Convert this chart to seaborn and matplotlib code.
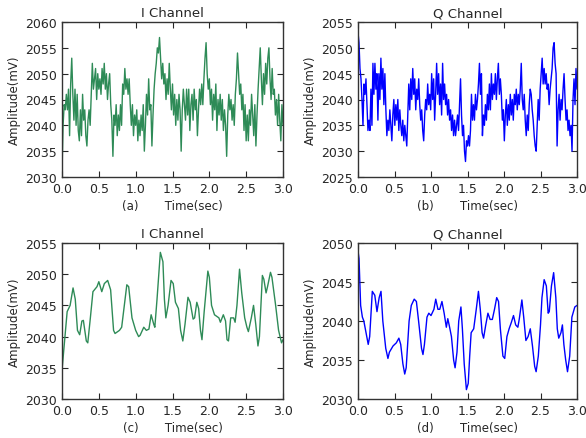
import matplotlib
matplotlib.use("Agg")
import matplotlib.pyplot as plt
import seaborn as sns
import numpy as np
import pandas as pd

# ---- data ----
# (a) raw I channel, evenly sampled over 0..3 s
i_raw = [2031, 2040, 2044, 2043, 2046, 2043, 2047, 2038, 2048, 2053, 2046, 2041, 2047, 2040, 2046, 2039,
         2037, 2043, 2038, 2046, 2041, 2043, 2038, 2036, 2041, 2043, 2040, 2046, 2052, 2047, 2049, 2051,
         2045, 2050, 2047, 2049, 2046, 2051, 2048, 2052, 2047, 2050, 2045, 2048, 2050, 2044, 2041, 2034,
         2042, 2040, 2044, 2038, 2042, 2039, 2044, 2040, 2048, 2046, 2051, 2047, 2049, 2046, 2049, 2044,
         2040, 2044, 2038, 2042, 2040, 2043, 2037, 2041, 2038, 2042, 2039, 2044, 2035, 2040, 2046, 2042,
         2049, 2043, 2044, 2036, 2042, 2047, 2050, 2052, 2055, 2054, 2057, 2053, 2049, 2052, 2048, 2050,
         2045, 2049, 2046, 2052, 2047, 2043, 2048, 2042, 2046, 2040, 2045, 2041, 2046, 2043, 2035, 2043,
         2047, 2044, 2041, 2047, 2042, 2047, 2039, 2044, 2046, 2041, 2047, 2043, 2045, 2038, 2043, 2047,
         2044, 2048, 2044, 2049, 2053, 2056, 2050, 2047, 2049, 2044, 2047, 2041, 2046, 2043, 2048, 2039,
         2045, 2042, 2046, 2041, 2045, 2039, 2043, 2040, 2034, 2042, 2046, 2043, 2045, 2041, 2044, 2040,
         2046, 2049, 2054, 2050, 2046, 2048, 2043, 2046, 2039, 2044, 2037, 2042, 2037, 2043, 2040, 2046,
         2042, 2038, 2044, 2036, 2042, 2047, 2051, 2055, 2049, 2044, 2050, 2046, 2052, 2048, 2053, 2055,
         2049, 2045, 2051, 2046, 2047, 2042, 2045, 2040, 2046, 2041, 2037, 2044, 2040]

# (b) raw Q channel, evenly sampled over 0..3 s
q_raw = [2053, 2051, 2046, 2044, 2040, 2035, 2043, 2041, 2044, 2039, 2034, 2036, 2034, 2042, 2035, 2047,
         2041, 2047, 2042, 2045, 2036, 2045, 2040, 2048, 2042, 2046, 2039, 2045, 2038, 2033, 2036, 2034,
         2038, 2035, 2032, 2037, 2040, 2035, 2039, 2036, 2040, 2034, 2038, 2035, 2033, 2036, 2032, 2035,
         2033, 2031, 2037, 2043, 2038, 2044, 2040, 2046, 2041, 2044, 2038, 2042, 2040, 2044, 2039, 2036,
         2038, 2034, 2032, 2037, 2040, 2038, 2043, 2039, 2041, 2038, 2045, 2040, 2044, 2036, 2041, 2047,
         2041, 2045, 2039, 2043, 2037, 2047, 2040, 2043, 2039, 2041, 2037, 2040, 2036, 2038, 2034, 2037,
         2033, 2036, 2033, 2035, 2037, 2034, 2039, 2044, 2037, 2033, 2035, 2030, 2028, 2032, 2031, 2033,
         2031, 2034, 2041, 2036, 2039, 2036, 2041, 2038, 2040, 2043, 2047, 2041, 2045, 2033, 2037, 2035,
         2039, 2036, 2041, 2038, 2043, 2038, 2045, 2040, 2043, 2041, 2045, 2040, 2044, 2047, 2041, 2044,
         2041, 2036, 2038, 2032, 2037, 2040, 2035, 2039, 2036, 2041, 2037, 2040, 2036, 2041, 2039, 2042,
         2038, 2041, 2039, 2042, 2047, 2040, 2038, 2041, 2036, 2033, 2037, 2034, 2039, 2042, 2041, 2038,
         2036, 2033, 2031, 2030, 2035, 2040, 2036, 2042, 2045, 2048, 2043, 2046, 2043, 2045, 2042, 2043,
         2039, 2042, 2044, 2046, 2050, 2051, 2047, 2045, 2031, 2038, 2041, 2036, 2040, 2038, 2042, 2045,
         2040, 2036, 2038, 2034, 2036, 2033, 2035, 2030, 2040, 2044, 2039, 2046, 2042]

# (c) filtered I channel
i_filt_time = [0.0, 0.07, 0.11, 0.15, 0.18, 0.21, 0.24, 0.27, 0.29, 0.33, 0.35, 0.385, 0.42, 0.475, 0.5,
               0.54, 0.575, 0.62, 0.66, 0.70, 0.72, 0.78, 0.81, 0.88, 0.905, 0.95, 1.0, 1.04, 1.06, 1.11,
               1.145, 1.18, 1.21, 1.245, 1.26, 1.29, 1.335, 1.37, 1.39, 1.41, 1.44, 1.48, 1.51, 1.54, 1.58,
               1.61, 1.64, 1.67, 1.71, 1.74, 1.78, 1.80, 1.83, 1.855, 1.88, 1.90, 1.93, 1.98, 2.0, 2.03,
               2.07, 2.13, 2.15, 2.19, 2.22, 2.24, 2.26, 2.29, 2.33, 2.35, 2.375, 2.41, 2.44, 2.48, 2.51,
               2.53, 2.57, 2.60, 2.63, 2.66, 2.68, 2.72, 2.74, 2.77, 2.79, 2.83, 2.85, 2.90, 2.94, 2.98, 3.0]
i_filt = [2034.6, 2044, 2045, 2047.8, 2046, 2041, 2040.3, 2042.5, 2042.6, 2039.3, 2039, 2043, 2047.2, 2048,
          2048.8, 2047.2, 2048.5, 2049, 2047.5, 2041, 2040.5, 2041, 2041.5, 2048.3, 2048, 2043, 2041, 2040,
          2040.2, 2041.5, 2041, 2041.2, 2043.5, 2042, 2041.5, 2046, 2053.5, 2052, 2046, 2043, 2045, 2049,
          2048.5, 2045.5, 2044.5, 2041, 2039.3, 2042, 2046.3, 2045.5, 2042.8, 2043, 2045.5, 2044.5, 2041,
          2039.5, 2044, 2050.5, 2049.5, 2045, 2043.5, 2043, 2042.3, 2043.5, 2042.5, 2039.5, 2039.3, 2043,
          2043, 2042.3, 2045, 2050.8, 2047, 2043, 2041.5, 2040.8, 2043, 2045, 2042, 2038.5, 2040, 2049.8,
          2049.2, 2047, 2048, 2050.3, 2049.5, 2045, 2041, 2039, 2039.5]

# (d) filtered Q channel
q_filt_time = [0.0, 0.014, 0.036, 0.06, 0.08, 0.11, 0.14, 0.16, 0.196, 0.23, 0.26, 0.29, 0.315, 0.34, 0.38,
               0.41, 0.43, 0.48, 0.525, 0.56, 0.585, 0.615, 0.64, 0.66, 0.70, 0.73, 0.77, 0.80, 0.83, 0.87,
               0.89, 0.91, 0.945, 0.97, 1.0, 1.04, 1.065, 1.095, 1.12, 1.15, 1.18, 1.21, 1.23, 1.255, 1.28,
               1.31, 1.33, 1.356, 1.38, 1.41, 1.43, 1.455, 1.485, 1.51, 1.53, 1.55, 1.585, 1.62, 1.65,
               1.675, 1.70, 1.72, 1.75, 1.78, 1.81, 1.84, 1.87, 1.90, 1.925, 1.95, 1.985, 2.01, 2.04, 2.07,
               2.10, 2.13, 2.16, 2.19, 2.21, 2.245, 2.27, 2.30, 2.33, 2.36, 2.39, 2.42, 2.44, 2.47, 2.50,
               2.52, 2.55, 2.58, 2.605, 2.62, 2.65, 2.68, 2.71, 2.73, 2.75, 2.78, 2.80, 2.82, 2.845, 2.87,
               2.90, 2.93, 2.97, 3.0]
q_filt = [2049, 2048, 2042, 2040.5, 2040, 2038.5, 2037, 2038, 2043.8, 2043.3, 2041.2, 2043, 2043.8, 2040,
          2036.5, 2035.2, 2036, 2036.8, 2037.2, 2037.8, 2037, 2034.5, 2033.2, 2034, 2040, 2042, 2042.8,
          2042.5, 2040, 2036.5, 2035.7, 2037, 2040.5, 2041, 2040.7, 2041.5, 2042.8, 2041.5, 2041.5, 2042.5,
          2041, 2039.2, 2040.3, 2039.2, 2038, 2035, 2034, 2036, 2040, 2041.8, 2039, 2034.5, 2031.2, 2032,
          2035.5, 2038.5, 2039, 2041.5, 2043.8, 2041.5, 2038.5, 2037.8, 2039.5, 2041, 2040.2, 2040.2, 2041.5,
          2043, 2042.5, 2039, 2035.5, 2035.2, 2038, 2039, 2039.8, 2040.7, 2039.5, 2039.2, 2040.3, 2042.7,
          2040.5, 2037.5, 2038, 2039, 2036.8, 2034.2, 2033.5, 2035.5, 2039.5, 2043, 2045.3, 2044.5, 2041,
          2041.2, 2044.5, 2046.2, 2043, 2039, 2037.8, 2038.5, 2039.5, 2037, 2035, 2033.5, 2035.5, 2040.5,
          2041.8, 2042]

i_raw_time = np.linspace(0, 3, len(i_raw))
q_raw_time = np.linspace(0, 3, len(q_raw))

sns.set_style("ticks")
plt.rcParams['font.family'] = ['DejaVu Sans']
plt.rcParams.update({
    'xtick.direction': 'in', 'ytick.direction': 'in',
    'xtick.top': True, 'ytick.right': True,
    'xtick.major.size': 4, 'ytick.major.size': 4,
    'xtick.labelsize': 9, 'ytick.labelsize': 9,
    'axes.edgecolor': '#333333', 'axes.linewidth': 1.0,
})

W, H = 586, 439
fig = plt.figure(figsize=(W / 100, H / 100), dpi=100)

# panel boxes in pixels: left, top, right, bottom
panels = [
    ((62, 23, 283, 178), i_raw_time, i_raw, '#2e8b57', 'I Channel', '(a)', (2030, 2060)),
    ((358, 23, 577, 178), q_raw_time, q_raw, '#0000ff', 'Q Channel', '(b)', (2025, 2055)),
    ((62, 244, 283, 400), i_filt_time, i_filt, '#2e8b57', 'I Channel', '(c)', (2030, 2055)),
    ((358, 244, 577, 400), q_filt_time, q_filt, '#0000ff', 'Q Channel', '(d)', (2030, 2050)),
]

for (l, t, r, b), times, vals, color, title, tag, ylim in panels:
    ax = fig.add_axes([l / W, 1 - b / H, (r - l) / W, (b - t) / H])
    df = pd.DataFrame({'time': times, 'amp': vals})
    sns.lineplot(data=df, x='time', y='amp', ax=ax, color=color, linewidth=1.0, estimator=None)
    ax.set_xlim(0, 3)
    ax.set_ylim(*ylim)
    ax.set_xticks(np.arange(0, 3.01, 0.5))
    ax.set_xticklabels([f"{v:.1f}" for v in np.arange(0, 3.01, 0.5)])
    ax.set_yticks(np.arange(ylim[0], ylim[1] + 1, 5))
    ax.set_title(title, fontsize=9.5, pad=4)
    ax.set_xlabel(f"{tag}       Time(sec)", fontsize=8.5, labelpad=3)
    ax.set_ylabel("Amplitude(mV)", fontsize=8.5, labelpad=3)

fig.savefig("out.png", dpi=100)
